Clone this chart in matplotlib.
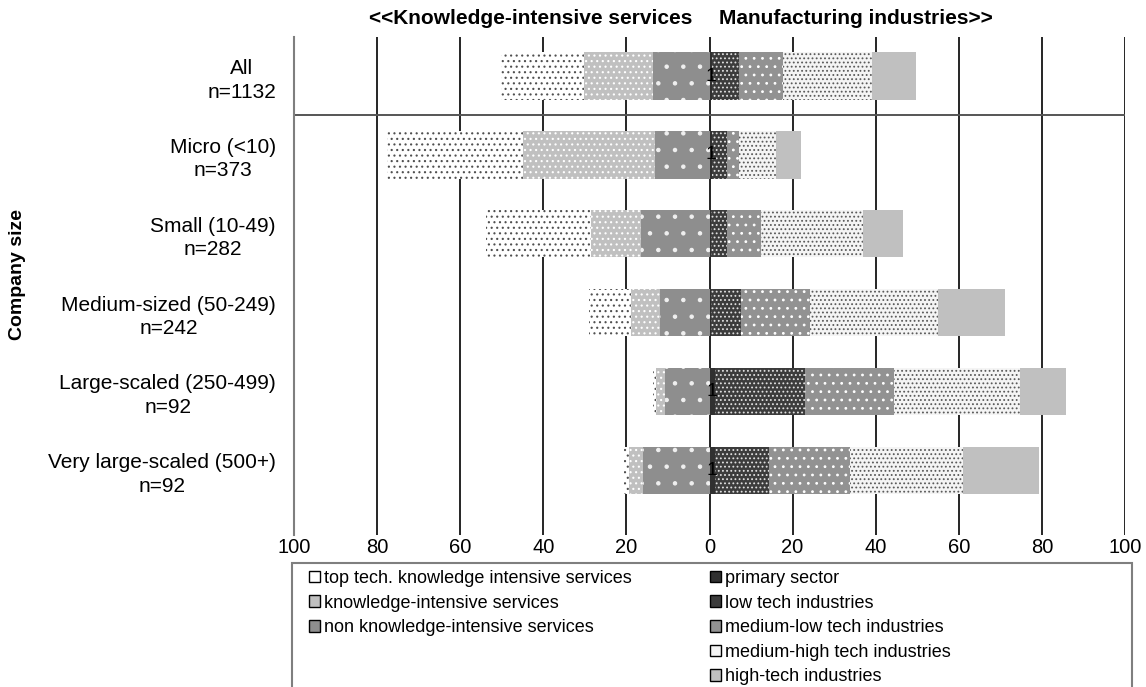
import matplotlib
matplotlib.use('Agg')
import matplotlib.pyplot as plt
import numpy as np
from matplotlib.patches import Patch, Rectangle

plt.rcParams['font.family'] = ['Liberation Sans', 'DejaVu Sans']
plt.rcParams['hatch.linewidth'] = 0.8

categories = ['All\nn=1132', 'Micro (<10)\nn=373', 'Small (10-49)\nn=282',
              'Medium-sized (50-249)\nn=242', 'Large-scaled (250-499)\nn=92',
              'Very large-scaled (500+)\nn=92']

# services share (drawn to the left of 0)
top_tech = np.array([20.2, 32.7, 25.3, 10.1, 0.9, 1.2])
kis = np.array([16.6, 31.8, 11.8, 6.8, 2.2, 3.4])
non_kis = np.array([13.5, 13.2, 16.6, 12.0, 10.6, 15.9])

# manufacturing share (drawn to the right of 0)
primary = np.array([0.7, 0.7, 0.4, 0.4, 1.4, 1.4])
low_tech = np.array([6.3, 3.6, 3.9, 7.1, 21.5, 12.8])
med_low = np.array([10.6, 2.9, 8.1, 16.8, 21.6, 19.5])
med_high = np.array([21.4, 8.7, 24.6, 30.6, 30.3, 27.2])
high_tech = np.array([10.8, 6.2, 9.6, 16.1, 11.1, 18.5])

tick_values = [-100, -80, -60, -40, -20, 0, 20, 40, 60, 80, 100]
tick_labels = ['100', '80', '60', '40', '20', '0', '20', '40', '60', '80', '100']

grid_color = 'black'
spine_color = '#7f7f7f'
bar_height = 0.6

# label, values, facecolor, hatch colour, hatch
left_series = [
    ('non knowledge-intensive services', non_kis, '#8e8e8e', '#f0f0f0', '.'),
    ('knowledge-intensive services', kis, '#c0c0c0', 'white', '...'),
    ('top tech. knowledge intensive services', top_tech, 'white', '#505050', '...'),
]
right_series = [
    ('primary sector', primary, '#303030', '#303030', None),
    ('low tech industries', low_tech, '#3c3c3c', '#e0e0e0', '....'),
    ('medium-low tech industries', med_low, '#929292', 'white', '..'),
    ('medium-high tech industries', med_high, '#f4f4f4', '#5a5a5a', '....'),
    ('high-tech industries', high_tech, '#c0c0c0', '#c0c0c0', None),
]

fig = plt.figure(figsize=(11.46, 6.87), dpi=100)
ax = fig.add_axes([294 / 1146, 1 - 535 / 687, 831 / 1146, 498 / 687])

y = np.arange(len(categories))

handles = {}
left = np.zeros(len(categories))
for label, vals, fc, hc, hatch in left_series:
    ax.barh(y, -vals, left=left, height=bar_height, color=fc,
            edgecolor=hc, hatch=hatch, linewidth=0, zorder=3)
    handles[label] = (fc, hc, hatch)
    left = left - vals

left = np.zeros(len(categories))
for label, vals, fc, hc, hatch in right_series:
    ax.barh(y, vals, left=left, height=bar_height, color=fc,
            edgecolor=hc, hatch=hatch, linewidth=0, zorder=3)
    handles[label] = (fc, hc, hatch)
    left = left + vals

# value label of the primary sector
for yi, v in zip(y, primary):
    if round(v) >= 1:
        ax.text(v / 2, yi, str(round(v)), ha='center', va='center',
                fontsize=14, color='black', zorder=5)

for xv in tick_values[1:]:
    ax.axvline(xv, color=grid_color, linewidth=1.2, zorder=1)
ax.axhline(0.5, color='#555555', linewidth=1.4, zorder=2)

ax.set_xlim(-100, 100)
ax.set_ylim(5.82, -0.495)
ax.set_xticks(tick_values)
ax.set_xticklabels(tick_labels, fontsize=14.5)
ax.set_yticks(y)
ax.set_yticklabels(categories, fontsize=15, linespacing=1.3)
for t in ax.get_yticklabels():
    t.set_multialignment('center')
ax.tick_params(axis='both', length=0)
ax.tick_params(axis='y', pad=13)
ax.tick_params(axis='x', pad=2)

ax.spines['top'].set_visible(False)
ax.spines['right'].set_visible(False)
ax.spines['bottom'].set_visible(False)
ax.spines['left'].set_color(spine_color)
ax.spines['left'].set_linewidth(1.5)

title_y = 1 + 18 / 498
ax.text(-4.1, title_y, '<<Knowledge-intensive services', ha='right', va='center',
        fontsize=15, fontweight='bold', transform=ax.get_xaxis_transform())
ax.text(2.4, title_y, 'Manufacturing industries>>', ha='left', va='center',
        fontsize=15, fontweight='bold', transform=ax.get_xaxis_transform())

fig.text(18 / 1146, 1 - 275 / 687, 'Company size', rotation=90, ha='center',
         va='center', fontsize=14, fontweight='bold')

# legend frame runs off the bottom of the figure
fig.patches.append(Rectangle((292 / 1146, -0.1), 840 / 1146, (1 - 563 / 687) + 0.1,
                             transform=fig.transFigure, fill=False,
                             edgecolor=spine_color, linewidth=1.5))

order = ['top tech. knowledge intensive services', 'knowledge-intensive services',
         'non knowledge-intensive services', None, None,
         'primary sector', 'low tech industries', 'medium-low tech industries',
         'medium-high tech industries', 'high-tech industries']
leg_handles = []
leg_labels = []
for name in order:
    if name is None:
        leg_handles.append(Patch(facecolor='none', edgecolor='none'))
        leg_labels.append('')
    else:
        fc, hc, hatch = handles[name]
        leg_handles.append(Patch(facecolor=fc, edgecolor='black', linewidth=1.0))
        leg_labels.append(name)

fig.legend(leg_handles, leg_labels, ncol=2, loc='upper left',
           bbox_to_anchor=(309 / 1146, 1 - 570 / 687), frameon=False,
           fontsize=13, handlelength=0.6, handleheight=0.6, handletextpad=0.25,
           labelspacing=0.42, columnspacing=4.3, borderpad=0, borderaxespad=0)

fig.savefig('out.png', dpi=100)
